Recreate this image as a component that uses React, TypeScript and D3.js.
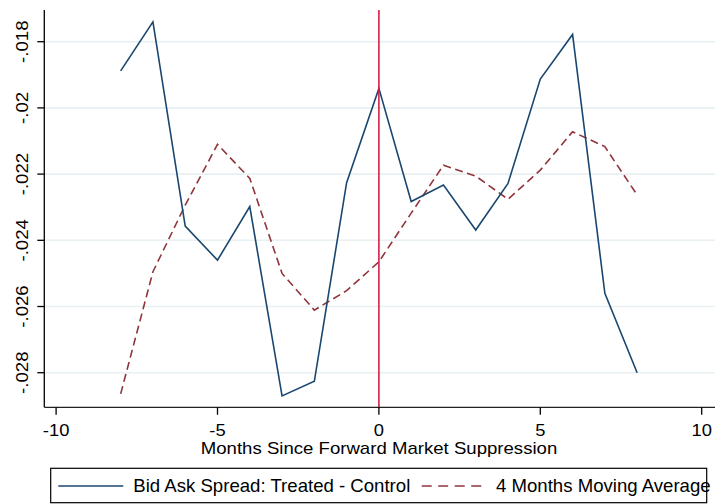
import * as d3 from "d3";

const months = [-8, -7, -6, -5, -4, -3, -2, -1, 0, 1, 2, 3, 4, 5, 6, 7, 8];
const spread = [
  -0.01888, -0.0174, -0.02357, -0.0246, -0.02298, -0.0287, -0.02826, -0.02226,
  -0.01941, -0.02283, -0.02233, -0.02369, -0.02228, -0.01913, -0.01778, -0.0256, -0.028,
];
const movingAvg = [
  -0.02864, -0.02495, -0.02294, -0.0211, -0.02213, -0.025, -0.02611, -0.02552,
  -0.02465, -0.02318, -0.02173, -0.02206, -0.02276, -0.02188, -0.02072, -0.02117, -0.02263,
];
const xTicks = [-10, -5, 0, 5, 10];
const yTicks = [-0.028, -0.026, -0.024, -0.022, -0.02, -0.018];
const yTickLabels = ["-.028", "-.026", "-.024", "-.022", "-.02", "-.018"];
const eventMonth = 0;
const xTitle = "Months Since Forward Market Suppression";
const legendLabels = ["Bid Ask Spread: Treated - Control", "4 Months Moving Average"];

const W = 715;
const H = 504;
const left = 44.3;
const right = 715;
const top = 10;
const bottom = 407.3;
const font = "'Liberation Sans', Arial, Helvetica, sans-serif";
const navy = "#1a476f";
const maroon = "#90353b";
// text in the original is a bit squashed vertically
const squash = 0.9;

export default function App() {
  const x = d3.scaleLinear().domain([-10, 10]).range([56.1, 701.7]);
  const y = d3.scaleLinear().domain([-0.029045, -0.017042]).range([bottom, top]);

  const line = d3
    .line<number>()
    .x((_, i) => x(months[i]))
    .y((d) => y(d));

  return (
    <svg
      width={W}
      height={H}
      style={{ position: "absolute", left: 0, top: 0, background: "#fff" }}
      fontFamily={font}
    >
      {/* gridlines */}
      {yTicks.map((t) => (
        <line key={t} x1={left} x2={right} y1={y(t)} y2={y(t)} stroke="#e9f0f3" strokeWidth={1.6} />
      ))}

      <path d={line(movingAvg) ?? ""} fill="none" stroke={maroon} strokeWidth={1.6} strokeDasharray="8 4.5" />
      <path d={line(spread) ?? ""} fill="none" stroke={navy} strokeWidth={1.6} />

      <line x1={x(eventMonth)} x2={x(eventMonth)} y1={top} y2={bottom} stroke="#d81e4a" strokeWidth={1.6} />

      {/* y axis */}
      <line x1={left} x2={left} y1={top} y2={bottom} stroke="#000" strokeWidth={1.3} />
      {yTicks.map((t, i) => (
        <g key={t}>
          <line x1={left - 7} x2={left} y1={y(t)} y2={y(t)} stroke="#000" strokeWidth={1.3} />
          <text
            transform={`translate(27.5, ${y(t)}) rotate(-90) scale(1, ${squash})`}
            textAnchor="middle"
            fontSize={18.6}
            fill="#000"
          >
            {yTickLabels[i]}
          </text>
        </g>
      ))}

      {/* x axis */}
      <line x1={left} x2={right} y1={bottom} y2={bottom} stroke="#222" strokeWidth={1.3} />
      {xTicks.map((t) => (
        <g key={t}>
          <line x1={x(t)} x2={x(t)} y1={bottom} y2={bottom + 7.5} stroke="#000" strokeWidth={1.3} />
          <text
            transform={`translate(${x(t)}, 436) scale(1, ${squash})`}
            textAnchor="middle"
            fontSize={18.4}
            fill="#000"
          >
            {t}
          </text>
        </g>
      ))}
      <text
        transform={`translate(379, 454) scale(1, ${squash})`}
        textAnchor="middle"
        fontSize={18.6}
        fill="#000"
      >
        {xTitle}
      </text>

      {/* legend */}
      <rect x={50.7} y={468.3} width={656} height={34.4} fill="#fff" stroke="#000" strokeWidth={1.2} />
      <line x1={58.3} x2={123.3} y1={486} y2={486} stroke={navy} strokeWidth={1.6} />
      <text x={133.3} y={492.3} fontSize={18.6} fill="#000">
        {legendLabels[0]}
      </text>
      <line x1={421.7} x2={486.7} y1={486} y2={486} stroke={maroon} strokeWidth={1.6} strokeDasharray="10 6.5" />
      <text x={496} y={492.3} fontSize={18.6} fill="#000">
        {legendLabels[1]}
      </text>
    </svg>
  );
}
